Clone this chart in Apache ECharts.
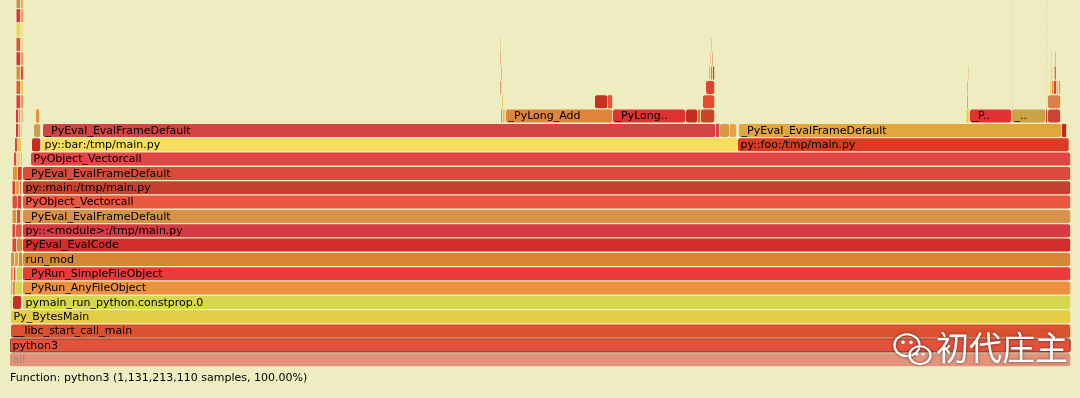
<!DOCTYPE html>
<html>
<head>
<meta charset="utf-8">
<script src="https://cdn.jsdelivr.net/npm/echarts@6/dist/echarts.min.js"></script>
<style>
  html, body { margin: 0; padding: 0; background: #eeedc1; }
  #chart { width: 1080px; height: 398px; }
</style>
</head>
<body>
<div id="chart"></div>
<script>
// samples are scaled so the whole profile spans 1061 units
const TOTAL = 1061;
const DEPTHS = 25.6;

// [name, start, end, depth]
const mainFrames = [
  ['all', 0, 1061, 0],
  ['python3', 0, 1061, 1],
  ['__libc_start_call_main', 1, 1061, 2],
  ['Py_BytesMain', 1, 1061, 3],
  ['pymain_run_python.constprop.0', 13, 1061, 4],
  ['_PyRun_AnyFileObject', 13, 1061, 5],
  ['_PyRun_SimpleFileObject', 13, 1061, 6],
  ['run_mod', 13, 1061, 7],
  ['PyEval_EvalCode', 13, 1061, 8],
  ['py::<module>:/tmp/main.py', 13, 1061, 9],
  ['_PyEval_EvalFrameDefault', 13, 1061, 10],
  ['PyObject_Vectorcall', 13, 1061, 11],
  ['py::main:/tmp/main.py', 13, 1061, 12],
  ['_PyEval_EvalFrameDefault', 13, 1061, 13],
  ['PyObject_Vectorcall', 21, 1061, 14],
  ['py::bar:/tmp/main.py', 32, 728, 15],
  ['py::foo:/tmp/main.py', 728, 1059.5, 15],
  ['_PyEval_EvalFrameDefault', 33, 706, 16],
  ['_PyEval_EvalFrameDefault', 729, 1052, 16]
];
const mainColors = ['#e1937c', '#e2523c', '#d9512e', '#e2cd44', '#d5d84e', '#ec9140',
  '#e93b3b', '#d58735', '#d52d2d', '#d53b44', '#d7924a', '#e95741', '#c54230',
  '#db4a3a', '#e24545', '#f7dc5d', '#dd3a24', '#d54444', '#e2a73c'];

const leftFrames = [
  ['pymain_init', 0.5, 2.5, 4], ['pymain_init', 3, 12, 4],
  ['PyImport_Import', 1, 3, 5], ['PyImport_Import', 3, 6, 5], ['run_eval_code_obj', 6, 13, 5],
  ['PyImport_Import', 1, 3.5, 6], ['_PyObject_Call', 4, 6, 6], ['run_eval_code_obj', 7, 13, 6],
  ['PyEval_EvalCode', 1, 5, 7], ['_PyEval_Vector', 5, 9, 7], ['run_eval_code_obj', 9, 13, 7],
  ['_PyEval_Vector', 2.5, 7, 8], ['_PyEval_Vector', 7, 13, 8],
  ['_PyEval_EvalFrameDefault', 2.5, 6, 9], ['_PyEval_EvalFrameDefault', 6, 12.5, 9],
  ['PyObject_Vectorcall', 2.5, 7, 10], ['PyObject_Vectorcall', 7, 11, 10], ['builtin_print', 11, 12.5, 10],
  ['_PyFunction_Vectorcall', 2.5, 8, 11], ['_PyFunction_Vectorcall', 8, 12, 11],
  ['py::<listcomp>', 2.5, 6, 12], ['py::<listcomp>', 6, 10, 12], ['PyFile_WriteObject', 10, 12, 12],
  ['_PyEval_EvalFrameDefault', 3, 8, 13], ['_PyEval_EvalFrameDefault', 8, 12.5, 13],
  ['PyObject_Vectorcall', 4, 7, 14], ['PyObject_Vectorcall', 7, 11, 14], ['PyList_Append', 11, 12.5, 14],
  ['py::foo:/tmp/main.py', 5, 8, 15], ['py::foo:/tmp/main.py', 8, 12, 15], ['py::bar:/tmp/main.py', 22, 31, 15],
  ['_PyEval_EvalFrameDefault', 6, 9, 16], ['_PyEval_EvalFrameDefault', 9, 11, 16], ['PyNumber_Add', 11, 13, 16], ['_PyEval_EvalFrameDefault', 24, 31, 16],
  ['binary_op1', 6, 9, 17], ['long_add', 9, 11, 17], ['PyNumber_Add', 11, 14, 17], ['long_add', 26, 30, 17],
  ['long_add', 6.5, 11, 18], ['_PyLong_Add', 11, 14, 18],
  ['_PyLong_Add', 6.5, 11, 19], ['x_add', 11, 14, 19],
  ['x_add', 6.5, 11, 20], ['_PyLong_New', 11, 14, 20],
  ['_PyLong_New', 6.5, 11, 21], ['PyObject_Malloc', 11, 14, 21],
  ['PyObject_Malloc', 6.5, 11, 22], ['pymalloc_alloc', 11, 14, 22],
  ['pymalloc_alloc', 6.5, 11, 23], ['allocate_from_new_pool', 11, 14, 23],
  ['allocate_from_new_pool', 6.5, 11, 24], ['_PyObject_Malloc', 11, 14, 24],
  ['_PyObject_Malloc', 6.5, 11, 25], ['malloc', 11, 14, 25]
];
const leftColors = [
  '#e8d870', '#c8301f',
  '#ec9a50', '#e08c3a', '#d8d452',
  '#e88e40', '#e04040', '#d4d050',
  '#d69040', '#daa050', '#d08c38',
  '#e04232', '#d8863c',
  '#d84444', '#e05a48',
  '#d8923a', '#e04a3a', '#e8c058',
  '#e05038', '#d44040',
  '#d64030', '#e0a050', '#e86a50',
  '#e0943a', '#d83a30',
  '#e04444', '#ecd070', '#e8a060',
  '#e04438', '#e8d060', '#c82a1e',
  '#d83434', '#e0a050', '#e8d880', '#c8a050',
  '#e03232', '#e88a40', '#f0c878', '#e0963a',
  '#e83a3a', '#e8a050',
  '#e05a2a', '#d8d450',
  '#d89040', '#e04a3a',
  '#e03030', '#e8a050',
  '#d05a30', '#f0d890',
  '#f0d050', '#f0e0a0',
  '#e03530', '#e8a858',
  '#c89050', '#e8b070'
];

const midFrames = [
  ['long_richcompare', 491, 493, 17], ['PyNumber_Subtract', 493, 495.5, 17],
  ['_PyLong_Add', 496, 603, 17], ['_PyLong_Subtract', 603, 676, 17],
  ['PyObject_RichCompare', 676, 688, 17], ['PyLong_FromLong', 688, 691, 17], ['PyNumber_Add', 691, 705, 17],
  ['_PyLong_Add', 720.5, 721.5, 16], ['_PyEval_EvalFrameDefault', 706, 710, 16],
  ['PyObject_Vectorcall', 710, 720, 16], ['PyNumber_Multiply', 720, 727, 16],
  ['long_compare', 492, 493.5, 18], ['x_add', 585, 598, 18], ['_PyLong_New', 598, 603, 18], ['binary_op1', 693, 705, 18],
  ['PyNumber_Add', 490.5, 492, 19], ['long_add', 696, 705, 19],
  ['_PyLong_Add', 491, 492, 20], ['x_add', 699, 701, 20], ['_PyLong_New', 701, 703, 20], ['PyObject_Malloc', 703, 705, 20],
  ['x_add', 490.6, 491.4, 21], ['_PyLong_New', 700, 701, 21], ['PyObject_Malloc', 702, 703, 21],
  ['_PyLong_New', 490.6, 491.1, 22], ['pymalloc_alloc', 701, 702, 22]
];
const midColors = ['#c89a50', '#e0c050', '#e1843b', '#e03232', '#c42c20', '#e07030', '#c94525',
  '#e04242', '#e04242', '#d49a48', '#e8a040',
  '#e8c040', '#c43222', '#e65432', '#e84a30',
  '#e05030', '#e24030',
  '#e86040', '#f0b060', '#e08040', '#d83a30',
  '#e85a3a', '#e8a040', '#d84030',
  '#e8a080', '#e89060'];

const rightFrames = [
  ['_PyEval_EvalFrameDefault', 1052, 1057, 16],
  ['PyLong_FromLong', 956.5, 959.5, 17], ['_PyLong_Add', 960, 1002, 17], ['_Py_NewReference', 1002, 1036, 17],
  ['long_compare', 1036, 1038, 17], ['PyNumber_Add', 1038, 1051, 17],
  ['_PyLong_New', 957, 958.6, 18], ['binary_op1', 1038, 1051, 18],
  ['PyObject_Malloc', 957.5, 958.5, 19], ['long_add', 1040, 1042, 19], ['long_add', 1042, 1044, 19],
  ['long_add', 1044, 1047, 19], ['long_sub', 1047, 1049, 19], ['long_mul', 1049, 1051, 19],
  ['pymalloc_alloc', 958.5, 959.1, 20], ['_PyLong_Add', 1041, 1043, 20], ['x_add', 1044, 1045, 20], ['x_add', 1045, 1046.6, 20],
  ['_PyLong_New', 1041, 1042, 21], ['_PyLong_New', 1045, 1046, 21],
  ['_PyLong_New', 1002.4, 1002.8, 18], ['_PyLong_New', 1002.4, 1002.8, 19], ['_PyLong_New', 1002.4, 1002.8, 20],
  ['_PyLong_New', 1002.4, 1002.8, 21], ['_PyLong_New', 1002.4, 1002.8, 22], ['_PyLong_New', 1002.4, 1002.8, 23],
  ['_PyLong_New', 1002.4, 1002.8, 24], ['_PyLong_New', 1002.4, 1002.8, 25],
  ['PyObject_Free', 1036.4, 1036.8, 18], ['PyObject_Free', 1036.4, 1036.8, 19], ['PyObject_Free', 1036.4, 1036.8, 20],
  ['PyObject_Free', 1036.4, 1036.8, 21], ['PyObject_Free', 1036.4, 1036.8, 22], ['PyObject_Free', 1036.4, 1036.8, 23],
  ['PyObject_Free', 1036.4, 1036.8, 24], ['PyObject_Free', 1036.4, 1036.8, 25]
];
const rightColors = ['#c82a20',
  '#f0c840', '#e23232', '#c9a345', '#e04030', '#c84438',
  '#e09048', '#d88048',
  '#d85040', '#f0d060', '#e09040', '#e04030', '#f0c050', '#e09848',
  '#e0a070', '#f0d080', '#e07050', '#d84030',
  '#e8b090', '#e05040',
  '#e8c8a0', '#e8c8a0', '#e8c8a0', '#e8c8a0', '#e8c8a0', '#e8c8a0', '#e8c8a0', '#e8c8a0',
  '#e8c8a0', '#e8c8a0', '#e8c8a0', '#e8c8a0', '#e8c8a0', '#e8c8a0', '#e8c8a0', '#e8c8a0'];

const statusText = 'Function: python3 (1,131,213,110 samples, 100.00%)';
const watermark = '初代庄主';

const frames = mainFrames.concat(leftFrames, midFrames, rightFrames);
const colors = mainColors.concat(leftColors, midColors, rightColors);

const CHAR_W = 7.3;
function fitLabel(name, w) {
  var fit = Math.floor((w - 6) / CHAR_W);
  if (fit < 3) return '';
  if (name.length <= fit) return name;
  return name.slice(0, fit - 2) + '..';
}

function renderFrame(params, api) {
  var i = api.value(3);
  var depth = api.value(2);
  var a = api.coord([api.value(0), depth]);
  var b = api.coord([api.value(1), depth + 1]);
  var x = a[0], y = b[1], w = b[0] - a[0], h = a[1] - b[1];
  var name = frames[i][0];
  var rect = {
    type: 'rect',
    shape: { x: x, y: y + 0.6, width: Math.max(w - 0.8, 0.4), height: h - 1.3, r: w > 5 ? 2 : 0 },
    style: { fill: colors[i] }
  };
  if (name === 'python3') {
    rect.style.stroke = '#7a3a2a';
    rect.style.lineWidth = 1;
  }
  var children = [rect];
  var label = fitLabel(name, w);
  if (label) {
    children.push({
      type: 'text',
      style: {
        x: x + 2.5, y: y + h / 2 + 0.3,
        text: label,
        font: '11px "DejaVu Sans", Verdana, sans-serif',
        fill: name === 'all' ? '#9a8a80' : '#000',
        verticalAlign: 'middle'
      }
    });
  }
  return { type: 'group', children: children };
}

const shadow = { shadowBlur: 3, shadowColor: 'rgba(0,0,0,0.6)' };

const chart = echarts.init(document.getElementById('chart'), null, { renderer: 'canvas' });
chart.setOption({
  backgroundColor: '#eeedc1',
  animation: false,
  grid: { left: 10, right: 9, top: 0, bottom: 31 },
  xAxis: { type: 'value', min: 0, max: TOTAL, show: false },
  yAxis: { type: 'value', min: 0, max: DEPTHS, show: false },
  series: [{
    type: 'custom',
    renderItem: renderFrame,
    clip: true,
    encode: { x: [0, 1], y: 2 },
    data: frames.map(function (f, i) { return [f[1], f[2], f[3], i]; })
  }],
  graphic: [
    {
      type: 'text', left: 10, top: 373, z: 100,
      style: { text: statusText, font: '11px "DejaVu Sans", Verdana, sans-serif', fill: '#000' }
    },
    {
      type: 'group', left: 892, top: 332, z: 100,
      children: [
        { type: 'circle', z: 100, shape: { cx: 14, cy: 13, r: 12.5 }, scaleY: 0.88, originY: 13,
          style: Object.assign({ fill: 'none', stroke: '#fff', lineWidth: 2.4 }, shadow) },
        { type: 'circle', z: 100, shape: { cx: 27, cy: 23, r: 10.5 }, scaleY: 0.85, originY: 23,
          style: Object.assign({ fill: 'none', stroke: '#fff', lineWidth: 2.4 }, shadow) },
        { type: 'circle', z: 100, shape: { cx: 10, cy: 10, r: 1.7 }, style: { fill: '#fff' } },
        { type: 'circle', z: 100, shape: { cx: 18, cy: 10, r: 1.7 }, style: { fill: '#fff' } },
        { type: 'circle', z: 100, shape: { cx: 24, cy: 22, r: 1.3 }, style: { fill: '#fff' } },
        { type: 'circle', z: 100, shape: { cx: 30, cy: 22, r: 1.3 }, style: { fill: '#fff' } }
      ]
    },
    {
      type: 'text', left: 936, top: 331, z: 100,
      style: {
        text: watermark, font: '33px "Noto Sans CJK SC"', fill: '#fff',
        textShadowColor: 'rgba(0,0,0,0.55)', textShadowBlur: 3
      }
    }
  ]
});
</script>
</body>
</html>
